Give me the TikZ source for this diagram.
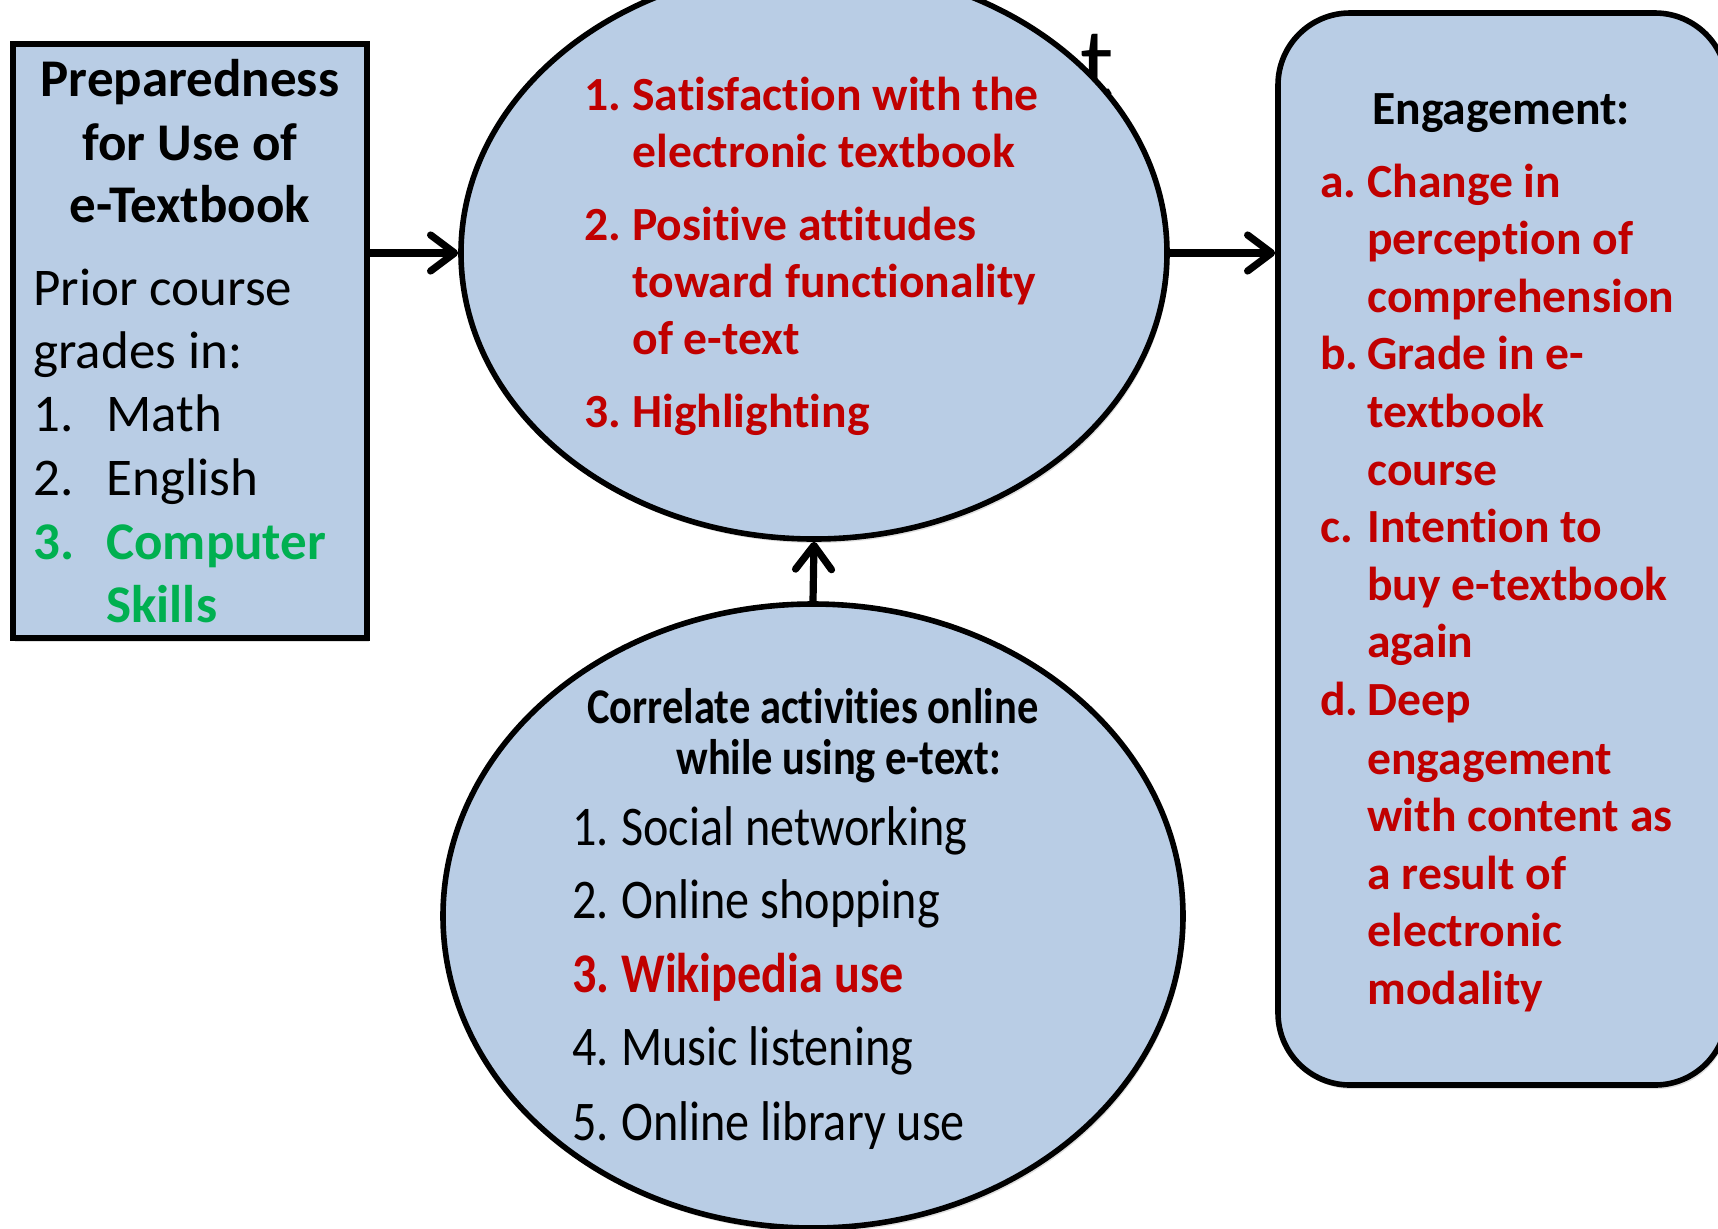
\documentclass[tikz,border=0pt]{standalone}
\usepackage{graphicx}
\usepackage{fontspec}
\setmainfont{Carlito}[RawFeature={-liga;-clig;-rlig;-dlig}]
\usetikzlibrary{arrows.meta, shapes.geometric, shadows}

\definecolor{boxblue}{HTML}{B9CDE5}
\definecolor{hired}{HTML}{C00000}
\definecolor{higreen}{HTML}{00B050}

\newcommand{\bigtxt}{\fontsize{26.5}{32}\selectfont}
\newcommand{\midtxt}{\fontsize{23.8}{29}\selectfont}
\newcommand{\headtxt}{\fontsize{25}{30}\selectfont}
\newcommand{\listtxt}{\fontsize{28}{34}\selectfont}

\begin{document}
\begin{tikzpicture}[x=0.5pt, y=-0.5pt,
  panel/.style={draw, line width=2.8pt, fill=boxblue,
    drop shadow={opacity=0.25, shadow xshift=1pt, shadow yshift=-2pt}},
  bubble/.style={panel, ellipse, inner sep=0pt},
  flow/.style={line width=3.6pt,
    -{Straight Barb[length=12pt, width=18pt, line cap=round, line join=round]}},
  textline/.style={anchor=base west, inner sep=0pt},
  midline/.style={anchor=base, inner sep=0pt}]
  \useasboundingbox (0,0) rectangle (1718,1228);
  \clip (0,0) rectangle (1718,1228);

  % letter left behind the top ellipse
  \node[textline, font=\fontsize{50}{60}\selectfont] (tee) at (1080,97) {t};

  % shapes
  \node[panel, minimum width=177pt, minimum height=297pt] (prep) at (190,341) {};
  \node[bubble, minimum width=353pt, minimum height=286pt] (satis) at (814,253) {};
  \node[bubble, minimum width=370pt, minimum height=312pt] (corr) at (813,916) {};
  \node[panel, rounded corners=36pt, minimum width=224.5pt, minimum height=536pt] (engage) at (1502.5,549) {};

  % connectors
  \draw[flow] (prep.east |- satis.west) -- (satis.west);
  \draw[flow] (satis.east) -- (satis.east -| engage.west);
  \draw[flow] (corr.north) -- (satis.south);

  % preparedness box
  \node[midline, font=\bigtxt\bfseries] (prep-h1) at (190,96) {Preparedness};
  \node[midline, font=\bigtxt\bfseries] (prep-h2) at (190,160) {for Use of};
  \node[midline, font=\bigtxt\bfseries] (prep-h3) at (190,222) {e-Textbook};
  \node[textline, font=\bigtxt] (prep-1) at (33,305) {Prior course};
  \node[textline, font=\bigtxt] (prep-2) at (33,368) {grades in:};
  \node[textline, font=\bigtxt] (prep-3) at (33,431) {\makebox[36.5pt][l]{1.}Math};
  \node[textline, font=\bigtxt] (prep-4) at (33,495) {\makebox[36.5pt][l]{2.}English};
  \node[textline, font=\bigtxt\bfseries, text=higreen] (prep-5) at (33,559) {\makebox[36.5pt][l]{3.}Computer};
  \node[textline, font=\bigtxt\bfseries, text=higreen] (prep-6) at (106,622) {Skills};

  % satisfaction ellipse
  \foreach \n/\y/\t [count=\i] in {1./110/Satisfaction with the, /167/electronic textbook,
      2./240/Positive attitudes, /297/toward functionality, /354/of e-text, 3./427/Highlighting}
    \node[textline, font=\midtxt\bfseries, text=hired] (satis-\i) at (584,\y) {\makebox[24pt][l]{\n}\t};

  % engagement box
  \node[midline, font=\midtxt\bfseries] (engage-h) at (1501,124) {Engagement:};
  \foreach \n/\y/\t [count=\i] in {a./197/Change in, /254/perception of, /312/comprehension,
      b./369/Grade in e-, /427/textbook, /485/course,
      c./542/Intention to, /600/buy e-textbook, /657/again,
      d./715/Deep, /774/engagement, /831/with content as, /889/a result of,
      /946/electronic, /1004/modality}
    \node[textline, font=\midtxt\bfseries, text=hired] (engage-\i) at (1320,\y) {\makebox[23.5pt][l]{\n}\t};

  % online activities ellipse
  \node[midline, font=\headtxt\bfseries] (corr-h1) at (813,723) {\scalebox{0.85}[1]{Correlate activities online}};
  \node[textline, font=\headtxt\bfseries] (corr-h2) at (676,774) {\scalebox{0.85}[1]{while using e-text:}};
  \node[textline, font=\listtxt] (corr-1) at (572,845) {\scalebox{0.86}[1]{\makebox[28.5pt][l]{1.}Social networking}};
  \node[textline, font=\listtxt] (corr-2) at (572,918) {\scalebox{0.86}[1]{\makebox[28.5pt][l]{2.}Online shopping}};
  \node[textline, font=\listtxt\bfseries, text=hired] (corr-3) at (572,992) {\scalebox{0.86}[1]{\makebox[28.5pt][l]{3.}Wikipedia use}};
  \node[textline, font=\listtxt] (corr-4) at (572,1065) {\scalebox{0.86}[1]{\makebox[28.5pt][l]{4.}Music listening}};
  \node[textline, font=\listtxt] (corr-5) at (572,1140) {\scalebox{0.86}[1]{\makebox[28.5pt][l]{5.}Online library use}};
\end{tikzpicture}
\end{document}
